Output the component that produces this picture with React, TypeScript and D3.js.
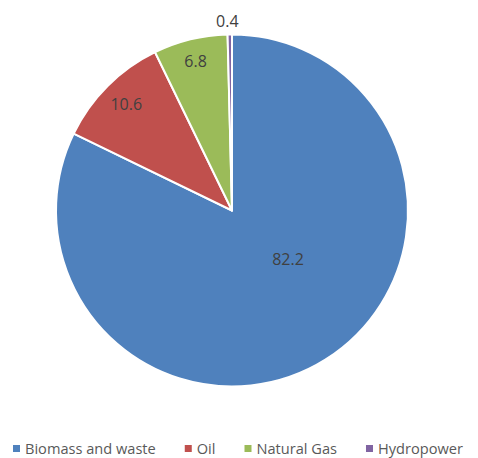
import React, { useEffect, useRef } from "react";
import * as d3 from "d3";

const categories = ["Biomass and waste", "Oil", "Natural Gas", "Hydropower"];
const values = [82.2, 10.6, 6.8, 0.4];
const labels = ["82.2", "10.6", "6.8", "0.4"];
const colors = ["#4F81BD", "#C0504D", "#9BBB59", "#8064A2"];

const W = 478;
const H = 458;
const CX = 232;
const CY = 210.5;
const R = 176;
// label placement (radius factor, angle offset in radians)
const labelLayout = [
  { rf: 0.42, da: -0.3 },
  { rf: 0.85, da: 0 },
  { rf: 0.875, da: 0 },
  { rf: 1.077, da: -0.012 },
];

export default function App() {
  const ref = useRef<SVGSVGElement>(null);
  useEffect(() => {
    const svg = d3.select(ref.current);
    svg.selectAll("*").remove();
    const data = categories.map((c, i) => ({ c, v: values[i], l: labels[i], i }));
    const pie = d3.pie<any>().value((d) => d.v).sort(null);
    const arcs = pie(data);
    const arc = d3.arc<any>().innerRadius(0).outerRadius(R);
    const g = svg.append("g").attr("transform", `translate(${CX},${CY})`);
    g.selectAll("path")
      .data(arcs)
      .enter()
      .append("path")
      .attr("d", arc as any)
      .attr("fill", (d: any) => colors[d.index])
      .attr("stroke", "#fff")
      .attr("stroke-width", 2)
      .attr("stroke-linejoin", "round");
    g.selectAll("text.lbl")
      .data(arcs)
      .enter()
      .append("text")
      .attr("class", "lbl")
      .attr("transform", (d: any) => {
        const lay = labelLayout[d.index];
        const a = (d.startAngle + d.endAngle) / 2 + lay.da;
        const r = R * lay.rf;
        return `translate(${r * Math.sin(a)},${-r * Math.cos(a)})`;
      })
      .attr("text-anchor", "middle")
      .attr("dy", "0.36em")
      .attr("font-family", "'Open Sans', sans-serif")
      .attr("font-size", 16)
      .attr("fill", "#404040")
      .text((d: any) => d.data.l);

    // legend
    const lg = svg.append("g");
    const items = lg
      .selectAll("g")
      .data(data)
      .enter()
      .append("g");
    items
      .append("rect")
      .attr("width", 7)
      .attr("height", 7)
      .attr("y", 445)
      .attr("fill", (d) => colors[d.i]);
    const texts = items
      .append("text")
      .attr("x", 12)
      .attr("y", 453.5)
      .attr("font-family", "'Open Sans', sans-serif")
      .attr("font-size", 14.6)
      .attr("fill", "#595959")
      .text((d) => d.c);
    const widths: number[] = [];
    texts.each(function () {
      widths.push(12 + (this as SVGTextElement).getComputedTextLength());
    });
    const gap = 29;
    let x = 13;
    items.each(function (_d, i) {
      d3.select(this).attr("transform", `translate(${x},0)`);
      x += widths[i] + gap;
    });
  }, []);
  return (
    <svg ref={ref} width={W} height={H} style={{ display: "block", position: "absolute", left: 0, top: 0, background: "#fff" }} />
  );
}
